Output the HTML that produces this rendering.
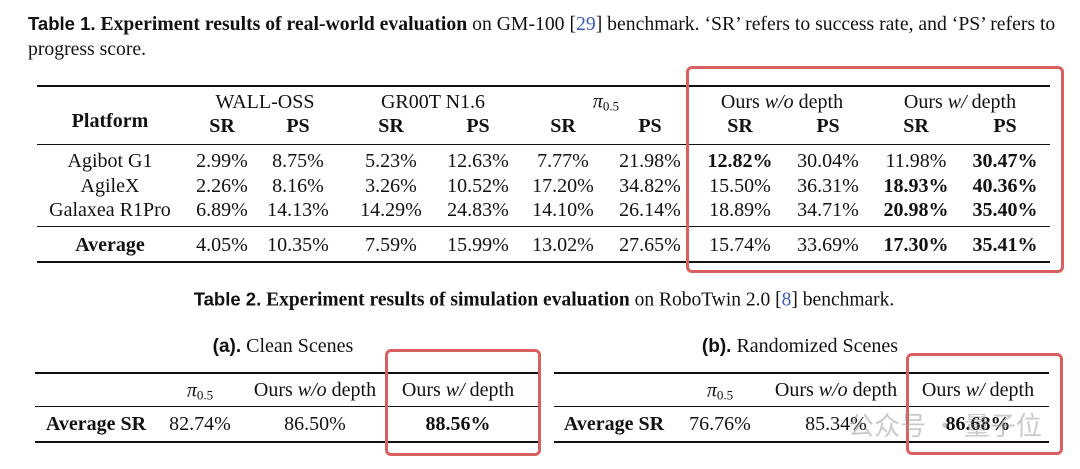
<!DOCTYPE html>
<html><head><meta charset="utf-8"><style>
body{margin:0;width:1080px;height:469px;background:#fff;overflow:hidden;position:relative;font-family:"Liberation Serif",serif;color:#111}
.t{position:absolute;white-space:nowrap;font-size:20px;transform:translate(-50%,-50%);line-height:1}
.l{position:absolute;white-space:nowrap;font-size:19.7px;line-height:1}
.b{font-weight:bold}
.s{font-family:"Liberation Sans",sans-serif;font-weight:bold}
.r{position:absolute;background:#111}
.box{position:absolute;border:3px solid #d9605f;border-radius:6px;box-sizing:border-box}
sub{font-size:13px;vertical-align:-3px}
</style></head><body>
<div class="l" style="left:28px;top:15px"><span class="s" style="font-size:18.5px">Table 1.</span> <b>Experiment results of real-world evaluation</b> on GM-100 [<span style="color:#3b5bb5">29</span>] benchmark. ‘SR’ refers to success rate, and ‘PS’ refers to</div>
<div class="l" style="left:28px;top:40px">progress score.</div>

<div class="r" style="left:37px;top:85px;width:1013px;height:2px"></div>
<div class="r" style="left:37px;top:144px;width:1013px;height:1px"></div>
<div class="r" style="left:37px;top:226px;width:1013px;height:1px"></div>
<div class="r" style="left:37px;top:261px;width:1013px;height:2px"></div>

<div class="t b" style="left:110px;top:121px">Platform</div>
<div class="t" style="left:265px;top:102px">WALL-OSS</div>
<div class="t" style="left:433px;top:102px">GR00T N1.6</div>
<div class="t" style="left:606px;top:102px"><i>π</i><sub>0.5</sub></div>
<div class="t" style="left:782px;top:102px">Ours <i>w/o</i> depth</div>
<div class="t" style="left:960px;top:102px">Ours <i>w/</i> depth</div>
<div class="t b" style="left:222px;top:126px">SR</div><div class="t b" style="left:298px;top:126px">PS</div>
<div class="t b" style="left:391px;top:126px">SR</div><div class="t b" style="left:478px;top:126px">PS</div>
<div class="t b" style="left:563px;top:126px">SR</div><div class="t b" style="left:650px;top:126px">PS</div>
<div class="t b" style="left:740px;top:126px">SR</div><div class="t b" style="left:828px;top:126px">PS</div>
<div class="t b" style="left:916px;top:126px">SR</div><div class="t b" style="left:1005px;top:126px">PS</div>

<div class="t" style="left:110px;top:161px">Agibot G1</div>
<div class="t" style="left:222px;top:161px">2.99%</div><div class="t" style="left:298px;top:161px">8.75%</div>
<div class="t" style="left:391px;top:161px">5.23%</div><div class="t" style="left:478px;top:161px">12.63%</div>
<div class="t" style="left:563px;top:161px">7.77%</div><div class="t" style="left:650px;top:161px">21.98%</div>
<div class="t b" style="left:740px;top:161px">12.82%</div><div class="t" style="left:828px;top:161px">30.04%</div>
<div class="t" style="left:916px;top:161px">11.98%</div><div class="t b" style="left:1005px;top:161px">30.47%</div>

<div class="t" style="left:110px;top:186px">AgileX</div>
<div class="t" style="left:222px;top:186px">2.26%</div><div class="t" style="left:298px;top:186px">8.16%</div>
<div class="t" style="left:391px;top:186px">3.26%</div><div class="t" style="left:478px;top:186px">10.52%</div>
<div class="t" style="left:563px;top:186px">17.20%</div><div class="t" style="left:650px;top:186px">34.82%</div>
<div class="t" style="left:740px;top:186px">15.50%</div><div class="t" style="left:828px;top:186px">36.31%</div>
<div class="t b" style="left:916px;top:186px">18.93%</div><div class="t b" style="left:1005px;top:186px">40.36%</div>

<div class="t" style="left:110px;top:210px">Galaxea R1Pro</div>
<div class="t" style="left:222px;top:210px">6.89%</div><div class="t" style="left:298px;top:210px">14.13%</div>
<div class="t" style="left:391px;top:210px">14.29%</div><div class="t" style="left:478px;top:210px">24.83%</div>
<div class="t" style="left:563px;top:210px">14.10%</div><div class="t" style="left:650px;top:210px">26.14%</div>
<div class="t" style="left:740px;top:210px">18.89%</div><div class="t" style="left:828px;top:210px">34.71%</div>
<div class="t b" style="left:916px;top:210px">20.98%</div><div class="t b" style="left:1005px;top:210px">35.40%</div>

<div class="t b" style="left:110px;top:245px">Average</div>
<div class="t" style="left:222px;top:245px">4.05%</div><div class="t" style="left:298px;top:245px">10.35%</div>
<div class="t" style="left:391px;top:245px">7.59%</div><div class="t" style="left:478px;top:245px">15.99%</div>
<div class="t" style="left:563px;top:245px">13.02%</div><div class="t" style="left:650px;top:245px">27.65%</div>
<div class="t" style="left:740px;top:245px">15.74%</div><div class="t" style="left:828px;top:245px">33.69%</div>
<div class="t b" style="left:916px;top:245px">17.30%</div><div class="t b" style="left:1005px;top:245px">35.41%</div>

<div class="box" style="left:686px;top:66px;width:378px;height:207px"></div>

<div class="t" style="left:544px;top:300px;font-size:19.5px"><span class="s" style="font-size:18.5px">Table 2.</span> <b>Experiment results of simulation evaluation</b> on RoboTwin 2.0 [<span style="color:#3b5bb5">8</span>] benchmark.</div>

<div class="t" style="left:283px;top:346px"><span class="s" style="font-size:19px">(a).</span> Clean Scenes</div>
<div class="r" style="left:35px;top:372px;width:505px;height:2px"></div>
<div class="r" style="left:35px;top:406px;width:505px;height:1px"></div>
<div class="r" style="left:35px;top:441px;width:505px;height:2px"></div>
<div class="t" style="left:200px;top:391px"><i>π</i><sub>0.5</sub></div>
<div class="t" style="left:315px;top:390px">Ours <i>w/o</i> depth</div>
<div class="t" style="left:458px;top:390px">Ours <i>w/</i> depth</div>
<div class="t b" style="left:96px;top:424px">Average SR</div>
<div class="t" style="left:200px;top:424px">82.74%</div>
<div class="t" style="left:315px;top:424px">86.50%</div>
<div class="t b" style="left:458px;top:424px">88.56%</div>
<div class="box" style="left:385px;top:349px;width:156px;height:107px"></div>

<div class="t" style="left:800px;top:346px"><span class="s" style="font-size:19px">(b).</span> Randomized Scenes</div>
<div class="r" style="left:554px;top:372px;width:495px;height:2px"></div>
<div class="r" style="left:554px;top:406px;width:495px;height:1px"></div>
<div class="r" style="left:554px;top:441px;width:495px;height:2px"></div>
<div class="t" style="left:720px;top:391px"><i>π</i><sub>0.5</sub></div>
<div class="t" style="left:836px;top:390px">Ours <i>w/o</i> depth</div>
<div class="t" style="left:978px;top:390px">Ours <i>w/</i> depth</div>
<div class="t b" style="left:614px;top:424px">Average SR</div>
<div class="t" style="left:720px;top:424px">76.76%</div>
<div class="t" style="left:836px;top:424px">85.34%</div>
<div class="t b" style="left:978px;top:424px">86.68%</div>
<div class="box" style="left:906px;top:353px;width:157px;height:102px"></div>
<div class="t" style="left:945px;top:425px;font-family:'Noto Sans CJK SC',sans-serif;font-size:26px;color:rgba(150,150,150,0.5)">公众号 · 量子位</div>
</body></html>
